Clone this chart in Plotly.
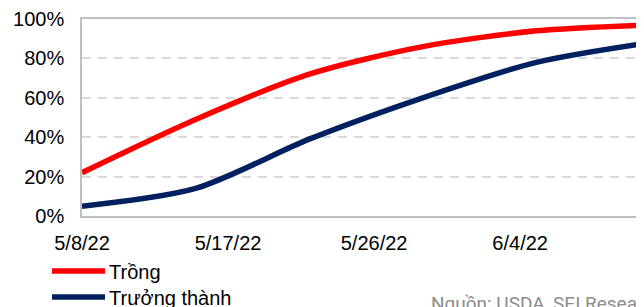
import plotly.graph_objects as go

dates = ["2022-05-08", "2022-05-15", "2022-05-22", "2022-05-29", "2022-06-05", "2022-06-12"]
trong = [22, 49, 72, 86, 94, 97]
truong_thanh = [5, 14, 39, 60, 78, 88]
series_names = ["Trồng", "Trưởng thành"]
tick_dates = ["2022-05-08", "2022-05-17", "2022-05-26", "2022-06-04"]
tick_text = ["5/8/22", "5/17/22", "5/26/22", "6/4/22"]
source_text = "Nguồn: USDA, SEI Research"

RED = "#FF0000"
NAVY = "#002060"
FONT = "Arial, Liberation Sans, sans-serif"

fig = go.Figure()
fig.add_trace(go.Scatter(x=dates, y=trong, name=series_names[0], mode="lines",
                         line=dict(color=RED, width=5.5, shape="spline", smoothing=0.8)))
fig.add_trace(go.Scatter(x=dates, y=truong_thanh, name=series_names[1], mode="lines",
                         line=dict(color=NAVY, width=5.5, shape="spline", smoothing=0.8)))

OFF = 8  # page body margin
W, H = 644, 307
L, T, B = 82 - OFF, 19 - OFF, H - (216 - OFF)
plot_w = W - L
plot_h = H - T - B

def px_x(p):  # window pixel -> paper
    return (p - OFF - L) / plot_w

def px_y(p):
    return (H - B - (p - OFF)) / plot_h

fig.update_layout(
    width=W, height=H,
    margin=dict(l=L, r=0, t=T, b=B, pad=0),
    paper_bgcolor="white", plot_bgcolor="white",
    showlegend=False,
    font=dict(family=FONT, size=20, color="#000000"),
)
fig.update_xaxes(
    type="date",
    range=["2022-05-08", "2022-06-12 03:00"],
    tickvals=tick_dates, ticktext=tick_text,
    showgrid=False, showline=True, linecolor="#BFBFBF", linewidth=1.5, mirror=True,
    ticks="", ticklabelstandoff=8, zeroline=False,
    tickfont=dict(family=FONT, size=20, color="#000000"),
)
fig.update_yaxes(
    range=[0, 100], dtick=20, ticksuffix="%",
    showgrid=True, gridcolor="#D9D9D9", gridwidth=1.5, griddash="9px,7px",
    showline=True, linecolor="#BFBFBF", linewidth=1.5,
    ticks="", ticklabelstandoff=12, zeroline=False,
    tickfont=dict(family=FONT, size=20, color="#000000"),
)

# manual legend
legend_y = [271, 297]
colors = [RED, NAVY]
for name, c, yy in zip(series_names, colors, legend_y):
    fig.add_shape(type="line", xref="paper", yref="paper",
                  x0=px_x(52), x1=px_x(105), y0=px_y(yy), y1=px_y(yy),
                  line=dict(color=c, width=5.5))
    fig.add_annotation(text=name, xref="paper", yref="paper", x=px_x(107), y=px_y(yy + 1),
                       xanchor="left", yanchor="middle", showarrow=False,
                       font=dict(family=FONT, size=20, color="#000000"))

fig.add_annotation(text=source_text, xref="paper", yref="paper", x=px_x(429), y=px_y(290),
                   xanchor="left", yanchor="top", showarrow=False,
                   font=dict(family="Roboto", size=19, color="#8C8C8C"))

fig.write_html("out.html")
